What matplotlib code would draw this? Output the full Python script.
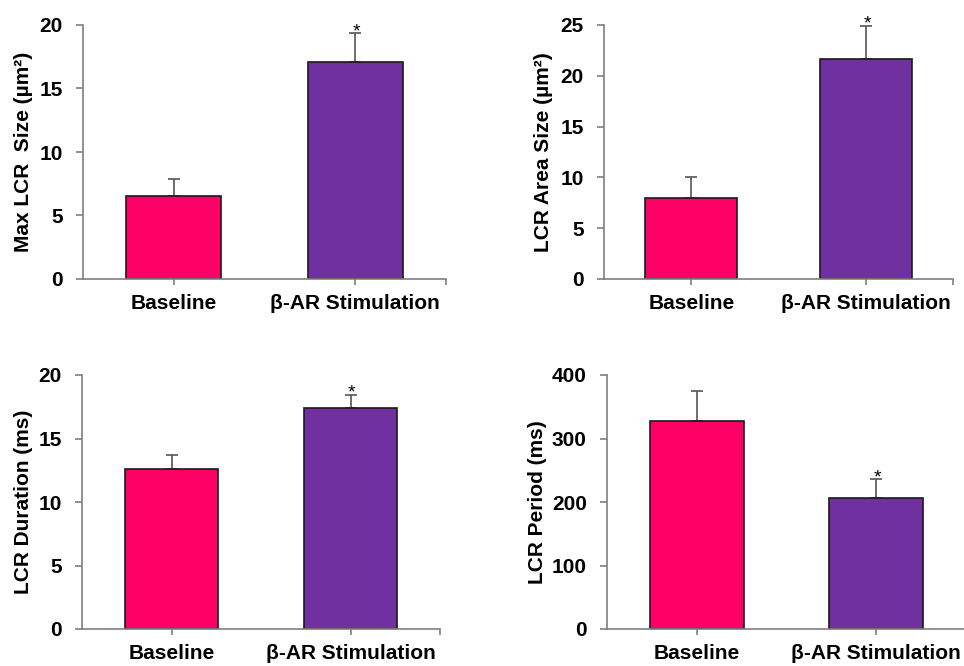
import numpy as np
import matplotlib
matplotlib.use('Agg')
import matplotlib.pyplot as plt

plt.rcParams['font.family'] = ['Liberation Sans', 'DejaVu Sans']
plt.rcParams['font.weight'] = 'bold'

groups = ['Baseline', 'β-AR Stimulation']
bar_colors = ['#FF0066', '#7030A0']

# values: (mean, upper error)
max_size = [6.56, 17.06]
max_size_err = [1.31, 2.28]
area_size = [7.98, 21.62]
area_size_err = [2.07, 3.31]
duration = [12.63, 17.44]
duration_err = [1.10, 0.98]
period = [327.4, 206.8]
period_err = [46.7, 29.0]

panels = [
    # values, errors, ylabel, ylim, step, axes rect (fig px: left, right, top, bottom), label x px
    (max_size, max_size_err, 'Max LCR  Size (µm²)', 20, 5, (83, 446, 25, 279), 33),
    (area_size, area_size_err, 'LCR Area Size (µm²)', 25, 5, (604, 953, 25, 279), 553),
    (duration, duration_err, 'LCR Duration (ms)', 20, 5, (82, 440, 375, 629), 33),
    (period, period_err, 'LCR Period (ms)', 400, 100, (607, 966, 375, 629), 547),
]

W, H = 964, 666
fig = plt.figure(figsize=(W / 100, H / 100), dpi=100)

x = np.arange(len(groups))
axis_grey = '#7f7f7f'

for vals, errs, label, ytop, step, (l, r, t, b), lab_x in panels:
    ax = fig.add_axes([l / W, 1 - b / H, (r - l) / W, (b - t) / H])
    ax.bar(x, vals, width=0.525, color=bar_colors, edgecolor='#1a1a1a', linewidth=1.2, zorder=2)
    ax.errorbar(x, vals, yerr=[np.zeros(len(vals)), errs], fmt='none',
                ecolor='#555555', elinewidth=1.2, capsize=4, capthick=1.2, zorder=1)
    tops = np.array(vals) + np.array(errs)
    # significance mark above the stimulated bar
    ax.annotate('*', (x[1], tops[1]), xytext=(1, -2), textcoords='offset points',
                ha='center', va='baseline', fontsize=14, fontweight='normal')
    ax.set_xlim(-0.5, 1.5)
    ax.set_ylim(0, ytop)
    ax.set_yticks(np.arange(0, ytop + step / 2, step))
    ax.set_xticks(x)
    ax.set_xticklabels(groups)
    ax.set_xticks([1.5], minor=True)
    ax.spines['top'].set_visible(False)
    ax.spines['right'].set_visible(False)
    for s in ['left', 'bottom']:
        ax.spines[s].set_color(axis_grey)
        ax.spines[s].set_linewidth(1.2)
    ax.tick_params(axis='y', direction='out', length=5, width=1.2, color=axis_grey,
                   labelsize=15, pad=9.5)
    ax.tick_params(axis='x', which='both', direction='out', length=4, width=1.2,
                   color=axis_grey, labelsize=15, pad=7)
    ax.set_ylabel(label, fontsize=15, fontweight='bold')
    ax.yaxis.set_label_coords((lab_x - l) / (r - l), 0.5)
    for lab in ax.get_xticklabels() + ax.get_yticklabels():
        lab.set_fontweight('bold')

fig.savefig('out.png', dpi=100)
